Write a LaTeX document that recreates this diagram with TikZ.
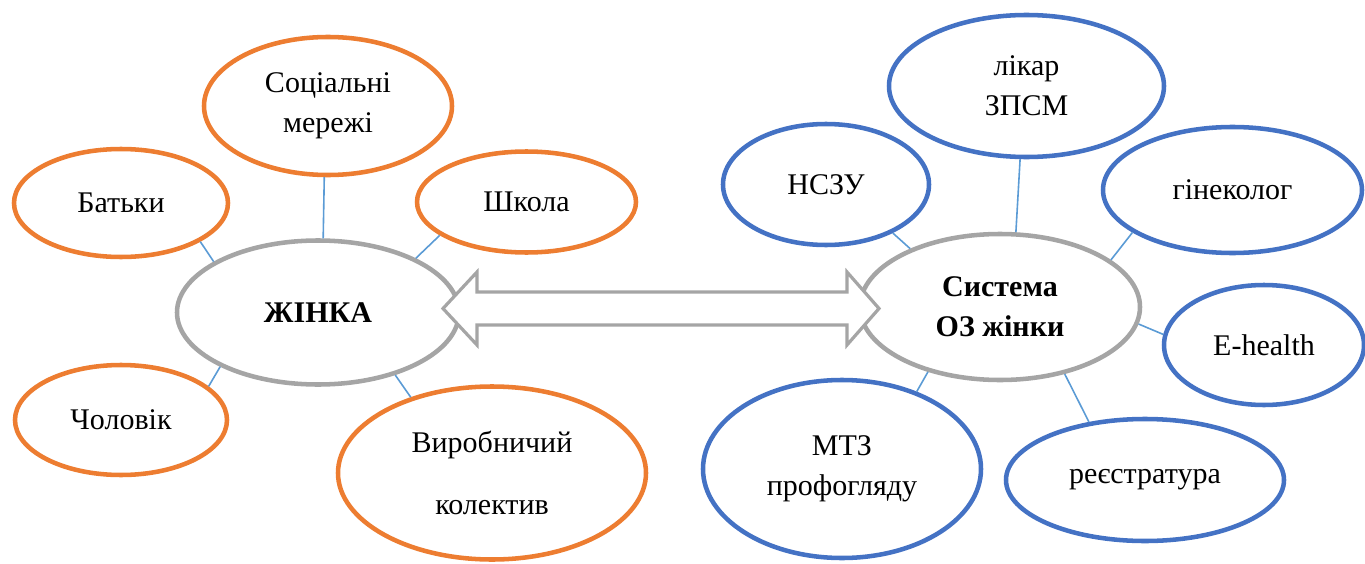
\documentclass[tikz,border=0pt]{standalone}
\usepackage{fontspec}
\setmainfont{Liberation Serif}
\usetikzlibrary{shapes.geometric}
\definecolor{orangeline}{HTML}{ED7D31}
\definecolor{blueline}{HTML}{4472C4}
\definecolor{greyline}{HTML}{A5A5A5}
\definecolor{linkline}{HTML}{5B9BD5}
\begin{document}
\begin{tikzpicture}[x=0.75pt,y=-0.75pt,
  oval/.style 2 args={ellipse, draw, line width=3.4pt, fill=white, inner sep=0pt,
    align=center, minimum width=#1*1.5pt, minimum height=#2*1.5pt,
    font=\fontsize{22.5}{30}\selectfont},
  outer/.style={draw=orangeline},
  health/.style={draw=blueline},
  hub/.style={draw=greyline, font=\fontsize{22.5}{30}\selectfont\bfseries},
  link/.style={draw=linkline, line width=1.2pt},
  twoway/.style={draw=greyline, fill=white, line width=2.4pt, line join=miter}
]
\useasboundingbox (0,0) rectangle (1365,564);

% woman and her surroundings
\node[oval={141}{72}, hub]    (zh)   at (318,312.5) {ЖІНКА};
\node[oval={124}{69}, outer]  (soc)  at (328,106)   {Соціальні\\мережі};
\node[oval={107}{54}, outer]  (bat)  at (121,203)   {Батьки};
\node[oval={109.5}{50.5}, outer] (shk) at (526.5,202) {Школа};
\node[oval={106}{55}, outer]  (chol) at (121,420)   {Чоловік};
\node[oval={154}{86.5}, outer] (vyr) at (492,473)   {Виробничий\\[17pt]колектив};

% health care system and its parts
\node[oval={140}{73}, hub]    (sys)  at (1000,307)  {Система\\ОЗ жінки};
\node[oval={137.5}{71}, health] (lik) at (1026.5,86) {лікар\\ЗПСМ};
\node[oval={103}{60.5}, health] (nszu) at (826,184.5) {НСЗУ};
\node[oval={129.5}{63}, health] (gin) at (1232.5,190) {гінеколог};
\node[oval={100}{60}, health] (eh)   at (1264,345)  {E-health};
\node[oval={139}{89}, health] (mtz)  at (842,469)   {МТЗ\\профогляду};
\node[oval={139}{61}, health] (reg)  at (1145,480)  {реєстратура};

% thin links
\draw[link] (bat.-26.6)  -- (zh.154.6);
\draw[link] (soc.-93)    -- (zh.86);
\draw[link] (shk.201.4)  -- (zh.29.9);
\draw[link] (zh.209.3)   -- (chol.21.9);
\draw[link] (zh.-39.7)   -- (vyr.137.9);
\draw[link] (nszu.-36.9) -- (sys.147.8);
\draw[link] (lik.-95.7)  -- (sys.78.2);
\draw[link] (gin.203.5)  -- (sys.23.9);
\draw[link] (sys.-7.3)   -- (eh.174.2);
\draw[link] (sys.222.6)  -- (mtz.46.9);
\draw[link] (sys.-46.6)  -- (reg.134.5);

% block double arrow between the two hubs
\draw[twoway] (443,308.5) -- (477,272) -- (477,292) -- (847,292) -- (847,272)
  -- (879,308.5) -- (847,345) -- (847,325) -- (477,325) -- (477,345) -- cycle;
\end{tikzpicture}
\end{document}
